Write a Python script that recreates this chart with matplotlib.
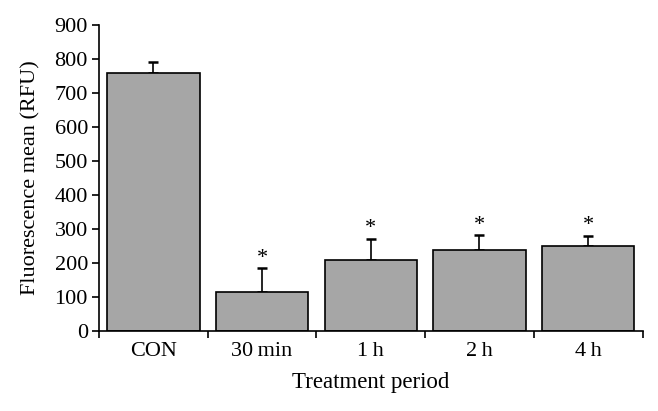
import numpy as np
import matplotlib
matplotlib.use('Agg')
import matplotlib.pyplot as plt

# values
periods = ['CON', '30\u2009min', '1\u2009h', '2\u2009h', '4\u2009h']
fluor_mean = [760, 113, 209, 239, 251]
fluor_err = [32, 72, 62, 43, 29]
signif = ['', '*', '*', '*', '*']

plt.rcParams['font.family'] = ['Liberation Serif', 'DejaVu Serif']

fig = plt.figure(figsize=(6.58, 4.11), dpi=100)
ax = fig.add_axes([0.1505, 0.195, 0.826, 0.744])

x = np.arange(len(periods))
ax.bar(x, fluor_mean, width=0.85, color='#a6a6a6', edgecolor='black', linewidth=1.2, zorder=2)
ax.errorbar(x, fluor_mean, yerr=[np.zeros(len(x)), fluor_err], fmt='none',
            ecolor='black', elinewidth=1.2, capsize=3.5, capthick=1.8, zorder=1)

for xi, m, e, s in zip(x, fluor_mean, fluor_err, signif):
    if s:
        ax.text(xi, m + e + 1, s, ha='center', va='bottom', fontsize=16)

ax.set_xlim(-0.5, len(periods) - 0.5)
ax.set_ylim(0, 900)
ax.set_yticks(range(0, 901, 100))
ax.set_xticks(np.arange(-0.5, len(periods), 1.0))
ax.set_xticklabels([])
ax.set_xticks(x, minor=True)
ax.set_xticklabels(periods, minor=True)
ax.tick_params(axis='x', which='minor', length=0, pad=8, labelsize=16)
ax.tick_params(axis='x', which='major', length=5, width=1.2, direction='out')
ax.tick_params(axis='y', length=5, width=1.2, labelsize=16, pad=3)

for side in ['top', 'right']:
    ax.spines[side].set_visible(False)
for side in ['left', 'bottom']:
    ax.spines[side].set_linewidth(1.2)

ax.set_xlabel('Treatment period', fontsize=16.5, labelpad=8)
ax.set_ylabel('Fluorescence mean (RFU)', fontsize=16, labelpad=10)

fig.savefig('out.png', dpi=100)
